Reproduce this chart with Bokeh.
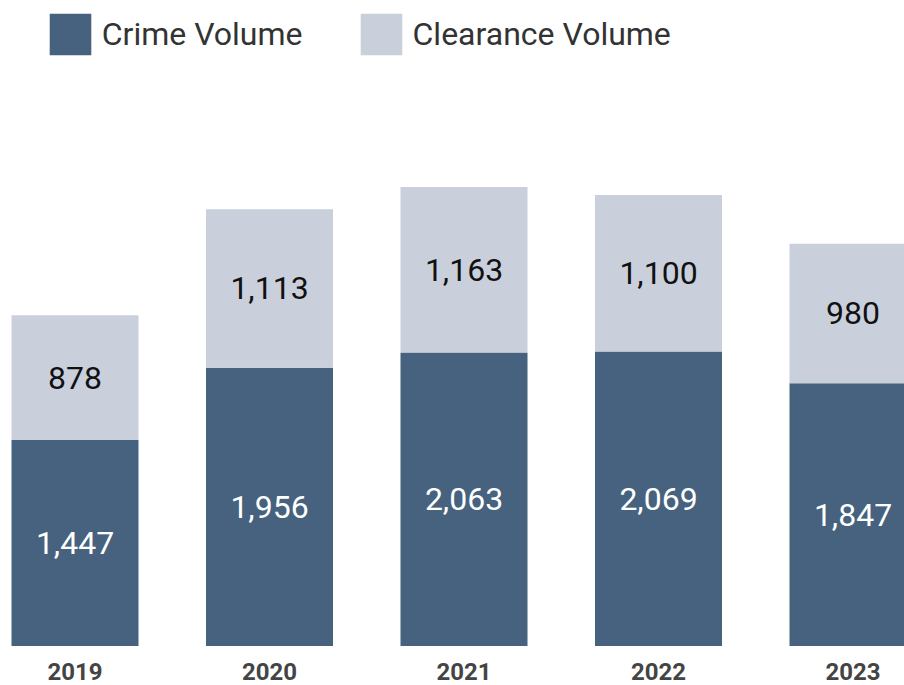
from bokeh.plotting import figure
from bokeh.models import ColumnDataSource, Range1d, Legend, LegendItem
from bokeh.core.properties import value
from bokeh.embed import file_html
from bokeh.resources import INLINE

years = ["2019", "2020", "2021", "2022", "2023"]
crime = [1447, 1956, 2063, 2069, 1847]
clearance = [878, 1113, 1163, 1100, 980]

DARK = "#46627E"
LIGHT = "#C9D0DC"

xs = list(range(len(years)))
src = ColumnDataSource(dict(
    x=xs,
    year=years,
    zero=[0] * len(years),
    crime=crime,
    clearance=clearance,
    crime_mid=[c / 2 for c in crime],
    clear_mid=[c + k / 2 for c, k in zip(crime, clearance)],
    crime_txt=[f"{c:,}" for c in crime],
    clear_txt=[f"{k:,}" for k in clearance],
))

W, H = 904, 685
BASE = 645.5          # pixel row of the bars' baseline
SCALE = 0.1423        # pixels per unit
PX_PER_X = 194.5      # pixels per category step
LEFT = 74.5           # pixel column of the first category centre

p = figure(width=W, height=H, output_backend="svg", toolbar_location=None,
           x_range=Range1d(-LEFT / PX_PER_X, (W - LEFT) / PX_PER_X),
           y_range=Range1d(-(H - BASE) / SCALE, BASE / SCALE),
           min_border=0, min_border_left=0, min_border_right=0, min_border_top=0, min_border_bottom=0)
p.outline_line_color = None
p.background_fill_color = "white"
p.border_fill_color = "white"
p.xgrid.visible = False
p.ygrid.visible = False
p.xaxis.visible = False
p.yaxis.visible = False

rs = p.vbar_stack(["crime", "clearance"], x="x", width=127 / PX_PER_X, source=src,
                  color=[DARK, LIGHT], line_color=None)

p.text(x="x", y="crime_mid", text="crime_txt", source=src, text_color="white",
       text_font=value("Roboto"), text_font_size="32px", text_align="center", text_baseline="middle")
p.text(x="x", y="clear_mid", text="clear_txt", source=src, text_color="#111111",
       text_font=value("Roboto"), text_font_size="32px", text_align="center", text_baseline="middle")

# category (year) labels below the bars
p.text(x="x", y="zero", text="year", source=src, text_color="#444444", y_offset=25,
       text_font=value("Roboto"), text_font_style="bold", text_font_size="24px",
       text_align="center", text_baseline="middle")

G = 52.5  # legend glyph box (Bokeh draws the swatch inset by 10%)
legend = Legend(items=[LegendItem(label="Crime Volume", renderers=[rs[0]]),
                       LegendItem(label="Clearance Volume", renderers=[rs[1]])],
                orientation="horizontal", location=(43.75, H - 7.75 - G),
                glyph_width=int(G), glyph_height=int(G), label_standoff=6, spacing=52,
                padding=0, margin=0, border_line_color=None, background_fill_alpha=0,
                label_text_font="Roboto", label_text_font_size="32px", label_text_color="#333333",
                label_height=int(G))
p.add_layout(legend)

open("out.html", "w").write(file_html(p, INLINE))
